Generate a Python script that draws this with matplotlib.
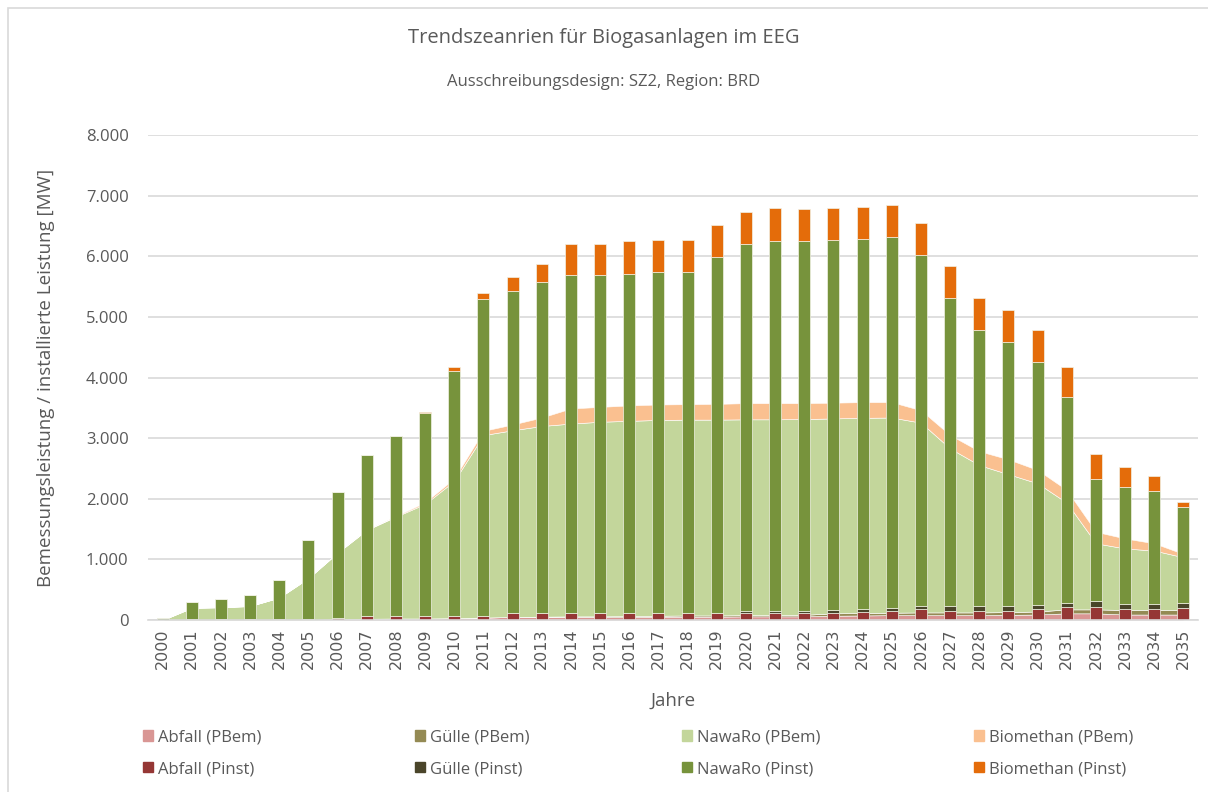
import matplotlib.pyplot as plt
import numpy as np
from matplotlib.patches import Patch, Rectangle
from matplotlib.ticker import FuncFormatter

years = [str(y) for y in range(2000, 2036)]

# Bemessungsleistung (Flaechen)
abfall_pbem = [0, 0, 0, 0, 0, 0, 10, 20, 25, 25, 30, 40, 50, 50, 50, 50, 50, 55,
               55, 55, 60, 60, 60, 70, 75, 80, 80, 80, 80, 85, 90, 110, 110, 90, 90, 90]
guelle_pbem = [0, 0, 0, 0, 0, 0, 0, 0, 0, 0, 0, 0, 0, 5, 10, 10, 15, 15,
               20, 20, 20, 20, 25, 40, 40, 40, 45, 45, 45, 45, 50, 65, 65, 75, 75, 75]
nawaro_pbem = [0, 200, 210, 230, 370, 690, 1100, 1465, 1680, 1890, 2265, 3010, 3080, 3145,
               3180, 3210, 3220, 3230, 3230, 3230, 3230, 3230, 3230, 3215, 3220, 3220,
               3130, 2705, 2430, 2275, 2115, 1760, 1090, 1015, 980, 870]
biomethan_pbem = [0, 0, 0, 0, 0, 0, 0, 5, 10, 25, 40, 70, 95, 140, 250, 245, 255, 255,
                  255, 260, 267, 267, 262, 260, 259, 254, 205, 220, 230, 245, 220, 210,
                  190, 165, 120, 55]

# installierte Leistung (Saeulen)
abfall_pinst = [0, 10, 10, 10, 10, 15, 40, 66, 66, 66, 66, 66, 110, 110, 110, 110, 110, 110,
                110, 110, 110, 110, 110, 120, 130, 155, 175, 155, 155, 155, 175, 210, 210,
                187, 187, 192]
guelle_pinst = [0, 0, 0, 0, 0, 0, 0, 0, 0, 0, 0, 0, 0, 0, 0, 0, 0, 0,
                0, 0, 40, 40, 40, 50, 56, 50, 55, 75, 75, 75, 77, 75, 98, 83, 83, 93]
nawaro_pinst = [28, 282, 341, 402, 649, 1298, 2070, 2654, 2962, 3341, 4039, 5224, 5325, 5470,
                5575, 5575, 5605, 5635, 5635, 5875, 6060, 6105, 6105, 6100, 6099, 6105,
                5790, 5085, 4550, 4350, 3998, 3395, 2012, 1917, 1857, 1578]
biomethan_pinst = [0, 0, 0, 0, 0, 0, 0, 0, 0, 27, 70, 105, 225, 300, 525, 525, 535, 525,
                   525, 535, 525, 545, 530, 530, 535, 530, 535, 525, 535, 530, 530, 490,
                   420, 330, 247, 77]

area_labels = ["Abfall (PBem)", "Gülle (PBem)", "NawaRo (PBem)", "Biomethan (PBem)"]
bar_labels = ["Abfall (Pinst)", "Gülle (Pinst)", "NawaRo (Pinst)", "Biomethan (Pinst)"]
area_colors = ["#d99694", "#948a54", "#c3d69b", "#fac090"]
bar_colors = ["#953735", "#4a452a", "#77933c", "#e46c0a"]

TEXT = "#595959"
GRID = "#d9d9d9"
plt.rcParams["font.family"] = ["Open Sans", "DejaVu Sans"]

fig = plt.figure(figsize=(12.08, 7.92), dpi=100)
fig.patches.append(Rectangle((0.0066, -0.01), 1.0, 1.0, transform=fig.transFigure,
                             fill=False, edgecolor="#d9d9d9", linewidth=1.2))
ax = fig.add_axes([148 / 1208, 1 - 620 / 792, 1050 / 1208, 485 / 792])

x = np.arange(len(years))
ax.stackplot(x, abfall_pbem, guelle_pbem, nawaro_pbem, biomethan_pbem,
             colors=area_colors, edgecolor="white", linewidth=0.4, zorder=2)

bottom = np.zeros(len(years))
for vals, col in zip([abfall_pinst, guelle_pinst, nawaro_pinst, biomethan_pinst], bar_colors):
    ax.bar(x, vals, width=0.41, bottom=bottom, color=col, edgecolor="#f2f2e6",
           linewidth=0.5, zorder=3)
    bottom += np.array(vals)

ax.set_xlim(-0.5, len(years) - 0.5)
ax.set_ylim(0, 8000)
ax.set_yticks(range(0, 8001, 1000))
ax.yaxis.set_major_formatter(FuncFormatter(lambda v, _: f"{v:,.0f}".replace(",", ".")))
ax.set_xticks(x)
ax.set_xticklabels(years, rotation=90, fontsize=11.5, family="DejaVu Sans")
ax.tick_params(axis="y", labelsize=12, colors=TEXT, length=0, pad=14)
ax.tick_params(axis="x", colors=TEXT, length=0, pad=6)
ax.grid(axis="y", color=GRID, linewidth=1.2, zorder=0)
ax.set_axisbelow(True)
for side in ["top", "right", "left"]:
    ax.spines[side].set_visible(False)
ax.spines["bottom"].set_color(GRID)
ax.spines["bottom"].set_linewidth(1.2)
ax.spines["bottom"].set_zorder(4)

ax.set_ylabel("Bemessungsleistung / installierte Leistung [MW]", fontsize=13.5,
              color=TEXT, labelpad=22)
ax.set_xlabel("Jahre", fontsize=13.5, color=TEXT, labelpad=16)

fig.text(0.5, 1 - 38 / 792, "Trendszeanrien für Biogasanlagen im EEG",
         ha="center", va="center", fontsize=14.5, color=TEXT)
fig.text(0.5, 1 - 82 / 792, "Ausschreibungsdesign: SZ2, Region: BRD",
         ha="center", va="center", fontsize=12, color=TEXT)

handles = []
labels = []
for i in range(4):
    handles += [Patch(color=area_colors[i]), Patch(color=bar_colors[i])]
    labels += [area_labels[i], bar_labels[i]]
fig.legend(handles, labels, ncol=4, loc="lower left",
           bbox_to_anchor=(128 / 1208, 0, 1020 / 1208, 60 / 792),
           mode="expand", frameon=False, fontsize=12, labelcolor=TEXT,
           handlelength=0.6, handleheight=0.6, handletextpad=0.3,
           labelspacing=0.95)

fig.savefig("out.png", dpi=100)
